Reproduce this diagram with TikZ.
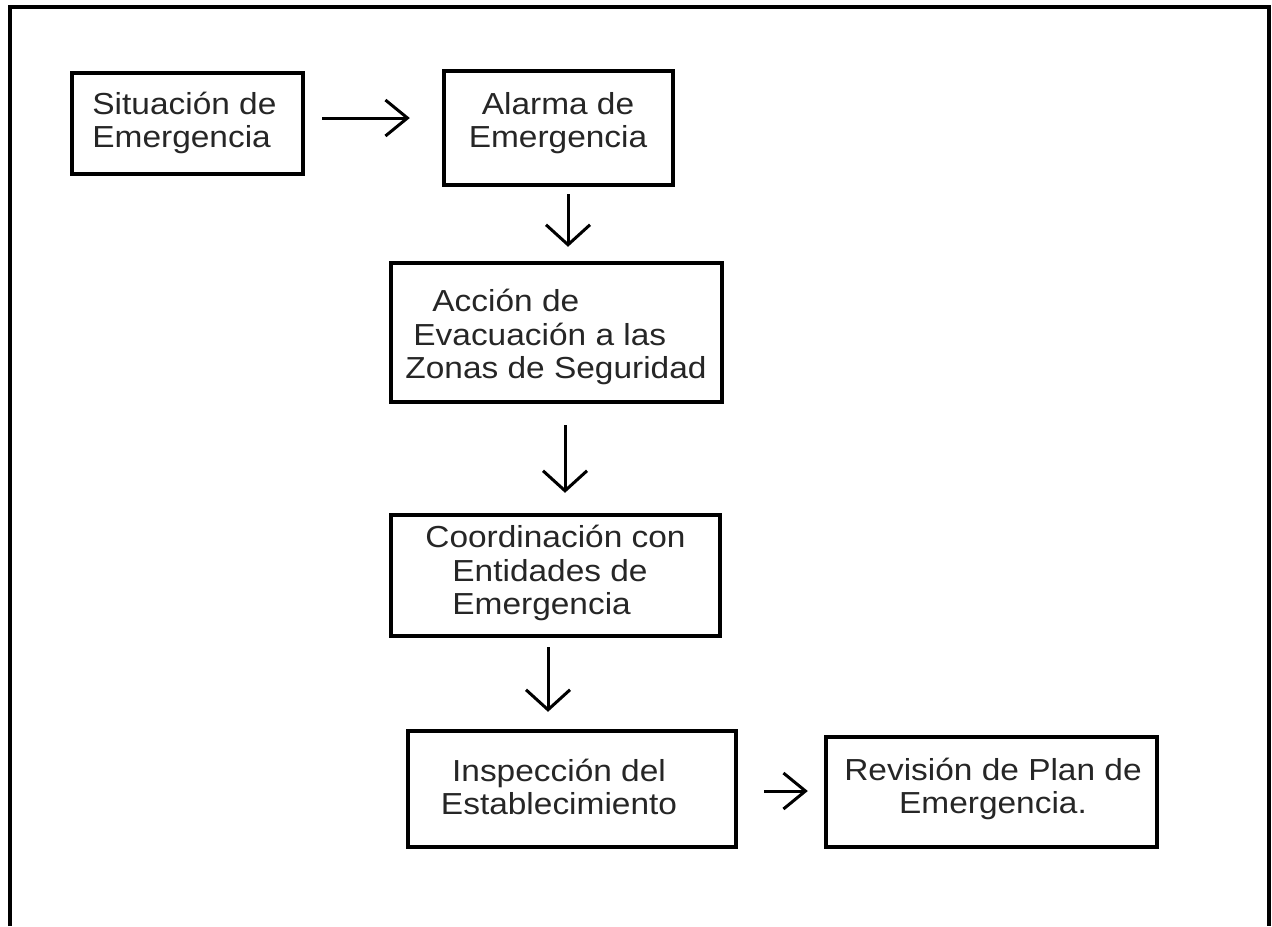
\documentclass[tikz,border=0pt]{standalone}
\usepackage{fontspec}
\setmainfont[FakeStretch=1.1]{Liberation Sans}
\usetikzlibrary{arrows.meta}
\begin{document}
\begin{tikzpicture}[x=0.5pt,y=-0.5pt,
  box/.style={draw=black,line width=2.2pt,inner sep=0pt},
  txt/.style={inner sep=0pt,font=\fontsize{15.2}{16.8}\selectfont,text=black!85},
  arr/.style={line width=1.5pt,-{Straight Barb[length=10pt,width=22pt,line width=1.5pt]}},
  arrh/.style={line width=1.5pt,-{Straight Barb[length=11pt,width=18pt,line width=1.5pt]}}]
\useasboundingbox (0,0) rectangle (1272,926);
\fill[white] (0,0) rectangle (1272,926);
% outer frame (open at bottom)
\draw[line width=2pt] (10,926) -- (10,7) -- (1269,7) -- (1269,926);
% boxes
\node[box, minimum width=115.5pt, minimum height=50.5pt] (b1) at (187.5,123.5) {};
\node[box, minimum width=114.5pt, minimum height=57pt] (b2) at (558.5,128) {};
\node[box, minimum width=165.5pt, minimum height=69.5pt] (b3) at (556.5,332.5) {};
\node[box, minimum width=164.5pt, minimum height=60.5pt] (b4) at (555.5,575.5) {};
\node[box, minimum width=164pt, minimum height=58pt] (b5) at (572,789) {};
\node[box, minimum width=165.5pt, minimum height=55pt] (b6) at (991.5,792) {};
% texts
\node[txt, anchor=west, align=left] (t1) at (92,123) {Situación de\\Emergencia};
\node[txt, align=center] (t2) at (558,123) {Alarma de\\Emergencia};
\node[txt, anchor=west, align=left] (t3) at (405,337) {\hspace*{13.5pt}Acción de\\\hspace*{4pt}Evacuación a las\\Zonas de Seguridad};
\node[txt, anchor=west, align=left] (t4) at (425,573) {Coordinación con\\\hspace*{13.5pt}Entidades de\\\hspace*{13.5pt}Emergencia};
\node[txt, align=center] (t5) at (559,787) {Inspección del\\Establecimiento};
\node[txt, align=center] (t6) at (993,789) {Revisión de Plan de\\Emergencia.};
% connectors
\draw[arrh] ([shift={(17,-5.5)}]b1.east) -- ([shift={(-32,-10)}]b2.west);
\draw[arr] ([shift={(9.5,7)}]b2.south) -- ([shift={(11.5,-14)}]b3.north);
\draw[arr] ([shift={(8.5,21)}]b3.south) -- ([shift={(9.5,-20)}]b4.north);
\draw[arr] ([shift={(-7.5,9)}]b4.south) -- ([shift={(-24,-17)}]b5.north);
\draw[arrh] ([shift={(26,2)}]b5.east) -- ([shift={(-16,-1)}]b6.west);
\end{tikzpicture}
\end{document}
